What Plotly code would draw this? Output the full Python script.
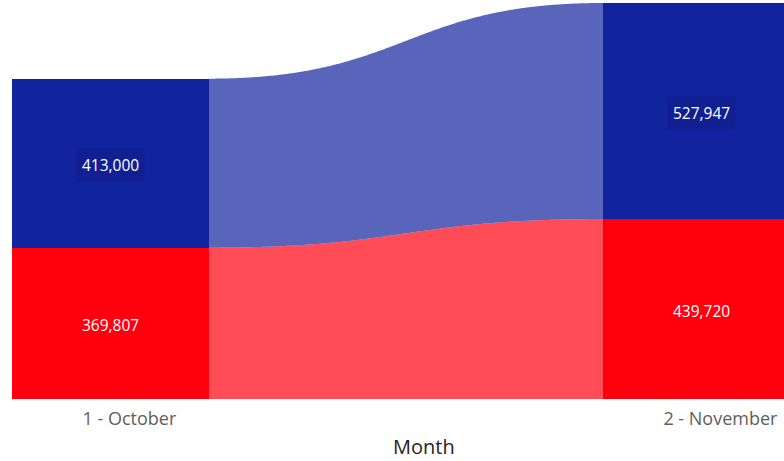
import numpy as np
import plotly.graph_objects as go

months = ["1 - October", "2 - November"]
series_names = ["Blue", "Red"]
blue_values = [413000, 527947]
red_values = [369807, 439720]

bar_colors = {"Blue": "#12239E", "Red": "#FF000E"}
ribbon_colors = {"Blue": "rgba(18,35,158,0.7)", "Red": "rgba(255,0,14,0.7)"}
label_bg = {"Blue": "rgba(0,0,0,0.07)", "Red": "rgba(0,0,0,0)"}

BAR_W = 1 / 3
# stacking order bottom -> top
stack = [("Red", red_values), ("Blue", blue_values)]

fig = go.Figure()

# cumulative bases
bases = {}
cum = np.zeros(len(months))
for name, vals in stack:
    bases[name] = cum.copy()
    cum = cum + np.array(vals, dtype=float)


def bez(x0, y0, x1, y1, n=400):
    t = np.linspace(0, 1, n)
    xm = (x0 + x1) / 2
    px = (1 - t) ** 3 * x0 + 3 * (1 - t) ** 2 * t * xm + 3 * (1 - t) * t ** 2 * xm + t ** 3 * x1
    py = (1 - t) ** 3 * y0 + 3 * (1 - t) ** 2 * t * y0 + 3 * (1 - t) * t ** 2 * y1 + t ** 3 * y1
    return px, py


# ribbons
for name, vals in stack:
    for i in range(len(months) - 1):
        xa = i + BAR_W / 2
        xb = i + 1 - BAR_W / 2
        lo_a, lo_b = bases[name][i], bases[name][i + 1]
        hi_a, hi_b = lo_a + vals[i], lo_b + vals[i + 1]
        tx, ty = bez(xa, hi_a, xb, hi_b)
        bx, by = bez(xa, lo_a, xb, lo_b)
        xs = np.concatenate([tx, bx[::-1]])
        ys = np.concatenate([ty, by[::-1]])
        fig.add_trace(go.Scatter(x=xs, y=ys, fill="toself", mode="lines",
                                 line=dict(width=0, simplify=False), fillcolor=ribbon_colors[name],
                                 hoverinfo="skip", showlegend=False))

# bars
for name, vals in stack:
    fig.add_trace(go.Bar(x=list(range(len(months))), y=vals, width=BAR_W,
                         marker=dict(color=bar_colors[name], line=dict(width=0)),
                         name=name, showlegend=False))

# data labels
for name, vals in stack:
    for i, v in enumerate(vals):
        fig.add_annotation(x=i, y=bases[name][i] + v / 2, text=f"{v:,}",
                           showarrow=False, xref="x", yref="y", yshift=-2,
                           font=dict(family="Open Sans", size=15.5, color="white"),
                           bgcolor=label_bg[name], borderpad=5)

fig.add_annotation(text="Month", xref="paper", yref="paper", x=0.5337, y=-0.12,
                   showarrow=False, xanchor="center", yanchor="middle",
                   font=dict(family="Open Sans", size=20, color="#252423"))

LABEL_SHIFT = 0.032
fig.update_layout(
    barmode="stack",
    width=784, height=461,
    margin=dict(l=12, r=0, t=0, b=62),
    plot_bgcolor="white", paper_bgcolor="white",
    xaxis=dict(range=[-BAR_W / 2, -BAR_W / 2 + 772 / 591], showgrid=False, zeroline=False,
               showline=False, tickmode="array",
               tickvals=[i + LABEL_SHIFT for i in range(len(months))], ticktext=months,
               ticks="", ticklabelstandoff=7,
               tickfont=dict(family="Open Sans", size=18, color="#605E5C")),
    yaxis=dict(range=[0, 975000], showgrid=False, zeroline=False, showline=False,
               showticklabels=False, ticks=""),
)

fig.write_html("out.html")
